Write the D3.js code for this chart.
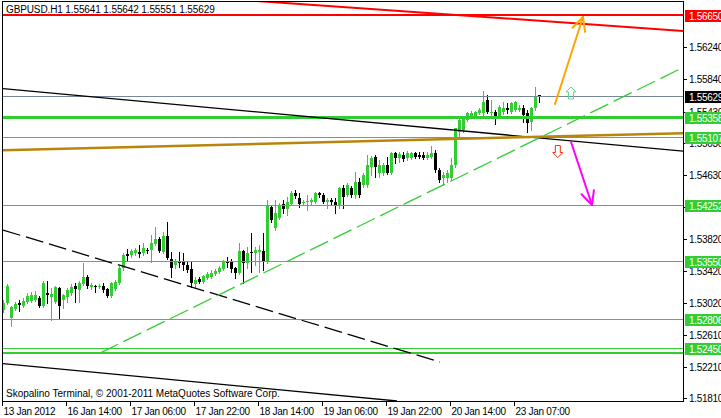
<!DOCTYPE html>
<html><head><meta charset="utf-8">
<script src="https://cdn.jsdelivr.net/npm/d3@7/dist/d3.min.js"></script>
<style>
body{margin:0;background:#fff;overflow:hidden}
svg{display:block}
text{font-family:"Liberation Sans",Arial,sans-serif;font-size:10px;letter-spacing:-0.3px}
text.title{letter-spacing:-0.12px}
text.copy{letter-spacing:0px}
</style></head><body>
<svg id="c" width="721" height="418"></svg>
<script>
// ---------- DATA ----------
const symbolTitle = "GBPUSD.H1  1.55641 1.55642 1.55551 1.55629";
const copyright = "Skopalino Terminal, \u00a9 2001-2011 MetaQuotes Software Corp.";

const open = [1.5293,1.5301,1.5282,1.5294,1.5301,1.5298,1.5303,1.5304,1.5305,1.5308,
1.5298,1.5314,1.5309,1.5303,1.5320,1.5305,1.5309,1.5314,1.5323,1.5318,
1.5325,1.5334,1.5322,1.5323,1.5322,1.5323,1.5319,1.5310,1.5319,1.5327,
1.5346,1.5363,1.5362,1.5364,1.5366,1.5364,1.5368,1.5368,1.5376,1.5382,
1.5366,1.5386,1.5357,1.5349,1.5353,1.5353,1.5349,1.5344,1.5325,1.5332,
1.5328,1.5333,1.5334,1.5338,1.5340,1.5344,1.5353,1.5353,1.5346,1.5339,
1.5367,1.5352,1.5366,1.5364,1.5366,1.5367,1.5353,1.5423,1.5396,1.5409,
1.5426,1.5420,1.5426,1.5440,1.5434,1.5428,1.5429,1.5429,1.5429,1.5440,
1.5438,1.5429,1.5431,1.5429,1.5425,1.5447,1.5438,1.5447,1.5438,1.5454,
1.5450,1.5450,1.5473,1.5486,1.5466,1.5466,1.5476,1.5466,1.5491,1.5484,
1.5488,1.5484,1.5484,1.5491,1.5488,1.5488,1.5484,1.5486,1.5491,1.5469,
1.5459,1.5459,1.5459,1.5476,1.5517,1.5520,1.5532,1.5536,1.5536,1.5541,
1.5541,1.5558,1.5541,1.5543,1.5536,1.5543,1.5548,1.5543,1.5545,1.5545,
1.5548,1.5541,1.5530,1.5548,1.55641];
const high = [1.5305,1.5325,1.5298,1.5303,1.5305,1.5308,1.5314,1.5315,1.5317,1.5310,
1.5329,1.5329,1.5320,1.5323,1.5322,1.5313,1.5320,1.5325,1.5327,1.5329,
1.5352,1.5337,1.5327,1.5324,1.5325,1.5327,1.5320,1.5328,1.5330,1.5348,
1.5364,1.5370,1.5370,1.5371,1.5375,1.5377,1.5371,1.5387,1.5397,1.5385,
1.5391,1.5404,1.5366,1.5357,1.5366,1.5364,1.5353,1.5353,1.5334,1.5334,
1.5337,1.5340,1.5343,1.5344,1.5348,1.5356,1.5359,1.5357,1.5347,1.5377,
1.5368,1.5372,1.5390,1.5372,1.5375,1.5390,1.5431,1.5425,1.5431,1.5428,
1.5431,1.5435,1.5443,1.5444,1.5440,1.5431,1.5438,1.5434,1.5442,1.5442,
1.5440,1.5434,1.5434,1.5434,1.5448,1.5450,1.5453,1.5449,1.5467,1.5459,
1.5466,1.5488,1.5487,1.5488,1.5482,1.5478,1.5486,1.5492,1.5492,1.5492,
1.5492,1.5493,1.5492,1.5492,1.5492,1.5492,1.5492,1.5500,1.5495,1.5472,
1.5467,1.5469,1.5484,1.5522,1.5536,1.5537,1.5543,1.5544,1.5544,1.5548,
1.5569,1.5564,1.5558,1.5545,1.5551,1.5555,1.5554,1.5555,1.5556,1.5551,
1.5551,1.5545,1.5549,1.5574,1.55642];
const low = [1.5290,1.5300,1.5272,1.5293,1.5291,1.5296,1.5301,1.5303,1.5304,1.5296,
1.5296,1.5301,1.5280,1.5301,1.5282,1.5295,1.5303,1.5312,1.5303,1.5303,
1.5324,1.5320,1.5319,1.5315,1.5320,1.5315,1.5309,1.5309,1.5318,1.5325,
1.5343,1.5354,1.5359,1.5362,1.5359,1.5362,1.5364,1.5353,1.5375,1.5366,
1.5364,1.5357,1.5334,1.5346,1.5347,1.5343,1.5340,1.5322,1.5320,1.5327,
1.5327,1.5332,1.5333,1.5337,1.5339,1.5343,1.5347,1.5340,1.5333,1.5338,
1.5327,1.5346,1.5340,1.5349,1.5340,1.5343,1.5352,1.5404,1.5394,1.5407,
1.5415,1.5412,1.5425,1.5434,1.5423,1.5425,1.5419,1.5426,1.5428,1.5435,
1.5428,1.5421,1.5425,1.5415,1.5421,1.5421,1.5436,1.5435,1.5434,1.5435,
1.5448,1.5448,1.5463,1.5460,1.5460,1.5463,1.5464,1.5464,1.5478,1.5479,
1.5481,1.5482,1.5483,1.5484,1.5484,1.5483,1.5483,1.5484,1.5467,1.5454,
1.5450,1.5454,1.5457,1.5473,1.5511,1.5517,1.5531,1.5535,1.5535,1.5540,
1.5539,1.5541,1.5539,1.5527,1.5535,1.5540,1.5541,1.5541,1.5544,1.5544,
1.5530,1.5517,1.5520,1.5545,1.55551];
const close = [1.5301,1.5323,1.5296,1.5300,1.5299,1.5304,1.5310,1.5312,1.5312,1.5298,
1.5327,1.5312,1.5313,1.5322,1.5298,1.5312,1.5318,1.5322,1.5319,1.5327,
1.5334,1.5323,1.5324,1.5322,1.5323,1.5318,1.5310,1.5327,1.5328,1.5346,
1.5362,1.5361,1.5367,1.5368,1.5363,1.5371,1.5367,1.5377,1.5382,1.5367,
1.5386,1.5358,1.5346,1.5353,1.5352,1.5349,1.5343,1.5327,1.5330,1.5328,
1.5335,1.5338,1.5339,1.5342,1.5346,1.5353,1.5352,1.5344,1.5339,1.5367,
1.5352,1.5364,1.5364,1.5368,1.5368,1.5354,1.5425,1.5406,1.5415,1.5425,
1.5420,1.5429,1.5440,1.5436,1.5426,1.5429,1.5430,1.5431,1.5440,1.5438,
1.5429,1.5431,1.5429,1.5425,1.5447,1.5435,1.5450,1.5438,1.5454,1.5438,
1.5463,1.5476,1.5484,1.5473,1.5476,1.5476,1.5466,1.5491,1.5484,1.5489,
1.5483,1.5491,1.5491,1.5486,1.5486,1.5484,1.5488,1.5491,1.5469,1.5457,
1.5463,1.5466,1.5476,1.5522,1.5532,1.5535,1.5541,1.5541,1.5543,1.5545,
1.5555,1.5543,1.5543,1.5536,1.5549,1.5548,1.5545,1.5554,1.5555,1.5548,
1.5539,1.5529,1.5548,1.5563,1.55629];

const timeTickBars = [0,16,32,48,64,80,96,112,128];
const timeTickLabels = ["13 Jan 2012","16 Jan 14:00","17 Jan 06:00","17 Jan 22:00","18 Jan 14:00","19 Jan 06:00","19 Jan 22:00","20 Jan 14:00","23 Jan 07:00"];
const priceTickLabels = ["1.56240","1.55840","1.55430","1.55030","1.54630","1.54220","1.53820","1.53420","1.53020","1.52610","1.52210","1.51810"];

// horizontal levels (price, label)
const levelPrices = [1.56650,1.55358,1.55107,1.54252,1.53550,1.52806,1.52450];
const levelLabels = ["1.56650","1.55358","1.55107","1.54252","1.53550","1.52806","1.52450"];
const extraLevelPrices = [1.52383];
const bidPrice = 1.55629;

// trend lines: [bar1, price1, bar2, price2]
const blackTrend = [0,1.5572,170.25,1.5493];
const brownTrend = [0,1.54943,170.25,1.55157];
const greenDashTrend = [24.25,1.52382,170.25,1.55993];
const blackDashTrend = [0,1.53935,109.25,1.52269];
const blackLowTrend = [0,1.52250,98.5,1.51777];
const redTrend = [63.25,1.56827,170.25,1.56448];
const orangeArrow = [138,1.55526,145,1.56625];
const magentaArrow = [142,1.55046,147.25,1.54251];
const upSignal = [142,1.55665];
const downSignal = [138.7,1.54926];

// ---------- STYLE ----------
const GREEN = "#32CD32", BLACK = "#000", RED = "#FF0000";
const PL = 2, PT = 1, PR = 683, PB = 401;

const svg = d3.select("#c");
svg.append("rect").attr("width",721).attr("height",418).attr("fill","#fff");
const x = d3.scaleLinear().domain([0,134]).range([3,539]);
const y = d3.scaleLinear().domain([1.51777,1.56801]).range([401,3]);

svg.append("defs").append("clipPath").attr("id","clip")
  .append("rect").attr("x",PL+1).attr("y",PT+1).attr("width",PR-PL-1).attr("height",PB-PT-1);
const plot = svg.append("g").attr("clip-path","url(#clip)");

// candles
const bars = d3.range(open.length).map(i=>({i,o:open[i],h:high[i],l:low[i],c:close[i]}));
const cg = plot.append("g").attr("shape-rendering","crispEdges");
cg.selectAll("line").data(bars).join("line")
  .attr("x1",d=>Math.round(x(d.i))+0.5).attr("x2",d=>Math.round(x(d.i))+0.5)
  .attr("y1",d=>Math.round(y(d.h))).attr("y2",d=>Math.round(y(d.l))+1)
  .attr("stroke",d=>d.c>=d.o?GREEN:BLACK).attr("stroke-width",1);
cg.selectAll("rect").data(bars).join("rect")
  .attr("x",d=>Math.round(x(d.i))-1).attr("width",3)
  .attr("y",d=>Math.round(y(Math.max(d.o,d.c))))
  .attr("height",d=>Math.max(1,Math.round(y(Math.min(d.o,d.c)))-Math.round(y(Math.max(d.o,d.c)))))
  .attr("fill",d=>d.c>=d.o?GREEN:BLACK);

// horizontal levels
const hl = plot.append("g").attr("shape-rendering","crispEdges");
function hline(p,color,w){
  const yy = Math.round(y(p)) + (w%2?0.5:0);
  hl.append("line").attr("x1",PL).attr("x2",PR).attr("y1",yy).attr("y2",yy)
    .attr("stroke",color).attr("stroke-width",w);
}
hline(bidPrice,"#778899",1);
const levelWidths = [2,3,1,1,1,1,1];
const levelColors = [RED,GREEN,GREEN,GREEN,GREEN,GREEN,GREEN];
levelPrices.forEach((p,k)=>hline(p,levelColors[k],levelWidths[k]));
extraLevelPrices.forEach(p=>hline(p,GREEN,2));

// trend lines
function tline(t,color,w,dash){
  const l = plot.append("line").attr("x1",x(t[0])).attr("y1",y(t[1])).attr("x2",x(t[2])).attr("y2",y(t[3]))
    .attr("stroke",color).attr("stroke-width",w);
  if(dash) l.attr("stroke-dasharray",dash);
  return l;
}
tline(redTrend,RED,2);
tline(blackTrend,BLACK,1.3);
tline(brownTrend,"#B8860B",2.5);
tline(blackDashTrend,BLACK,1.3,"18,6");
tline(blackLowTrend,BLACK,1.3);
tline(greenDashTrend,GREEN,1.3,"20,6");

// arrows
function arrow(t,color){
  const x1=x(t[0]),y1=y(t[1]),x2=x(t[2]),y2=y(t[3]);
  const g = plot.append("g").attr("stroke",color).attr("stroke-width",2).attr("fill","none").attr("stroke-linecap","round");
  g.append("line").attr("x1",x1).attr("y1",y1).attr("x2",x2).attr("y2",y2);
  const a = Math.atan2(y1-y2,x1-x2), L=15, s=0.45;
  [a+s,a-s].forEach(b=>g.append("line").attr("x1",x2).attr("y1",y2)
    .attr("x2",x2+L*Math.cos(b)).attr("y2",y2+L*Math.sin(b)));
}
arrow(orangeArrow,"#FFA500");
arrow(magentaArrow,"#FF00FF");

function signal(pt,up,stroke){
  const cx=x(pt[0]), cy=y(pt[1]), s = up?1:-1;
  const pts=[[0,-6],[5,-1],[2.5,-1],[2.5,6],[-2.5,6],[-2.5,-1],[-5,-1]].map(p=>[cx+p[0],cy+s*p[1]]);
  plot.append("path").attr("d",d3.line()(pts)+"Z").attr("fill","none").attr("stroke",stroke).attr("stroke-width",1);
}
signal(upSignal,true,"#5CD88C");
signal(downSignal,false,"#F03010");

// frame
const fr = svg.append("g").attr("shape-rendering","crispEdges").attr("stroke",BLACK).attr("stroke-width",1);
fr.append("line").attr("x1",PL+0.5).attr("x2",PL+0.5).attr("y1",PT).attr("y2",PB+1);
fr.append("line").attr("x1",PL).attr("x2",PR+1).attr("y1",PT+0.5).attr("y2",PT+0.5);
fr.append("line").attr("x1",PR+0.5).attr("x2",PR+0.5).attr("y1",PT).attr("y2",PB+1);
fr.append("line").attr("x1",PL).attr("x2",PR+1).attr("y1",PB+0.5).attr("y2",PB+0.5);

// time axis
timeTickBars.forEach((b,k)=>{
  const xx = Math.round(x(b))-0.5;
  fr.append("line").attr("x1",xx).attr("x2",xx).attr("y1",PB).attr("y2",PB+5);
  svg.append("text").attr("x",xx+1).attr("y",414.5).attr("fill",BLACK).text(timeTickLabels[k]);
});
// price axis
priceTickLabels.forEach(s=>{
  const yy = Math.round(y(+s))+0.5;
  fr.append("line").attr("x1",PR).attr("x2",PR+4).attr("y1",yy).attr("y2",yy);
  svg.append("text").attr("x",689).attr("y",yy+3.5).attr("fill",BLACK).text(s);
});
// level labels
function boxLabel(p,txt,bg){
  const yy = Math.round(y(p));
  svg.append("rect").attr("x",685).attr("y",yy-5).attr("width",40).attr("height",12).attr("fill",bg);
  svg.append("text").attr("x",689).attr("y",yy+4.5).attr("fill","#fff").text(txt);
}
levelPrices.forEach((p,k)=>boxLabel(p,levelLabels[k],levelColors[k]));
boxLabel(bidPrice,bidPrice.toFixed(5),BLACK);

// title & copyright
svg.append("text").attr("class","title").attr("x",6).attr("y",12.5).attr("fill",BLACK).text(symbolTitle);
svg.append("text").attr("class","copy").attr("x",6).attr("y",397).attr("fill",BLACK).text(copyright);
</script></body></html>
